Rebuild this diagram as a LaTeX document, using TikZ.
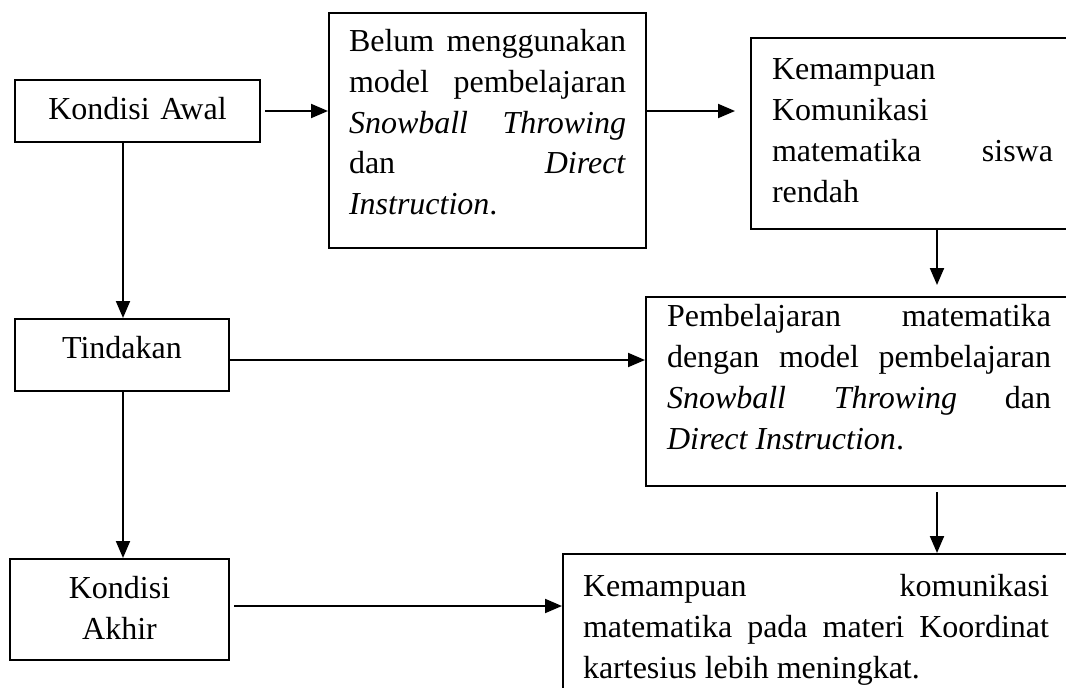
\documentclass[tikz,border=0pt]{standalone}
\usepackage{fontspec}
\setmainfont{Liberation Serif}
\usetikzlibrary{arrows.meta,calc}
\hyphenpenalty=10000
\exhyphenpenalty=10000
\tolerance=10000
\hbadness=10000
\begin{document}
\begin{tikzpicture}[x=1pt,y=-1pt,
  box/.style={draw, line width=2pt, inner ysep=0pt, anchor=north west,
    font=\fontsize{32}{41}\selectfont},
  smallbox/.style={box, inner xsep=0pt, align=center},
  textbox/.style={box, align=justify},
  conn/.style={line width=2pt, -{Triangle[length=17pt,width=14pt]}}]
\useasboundingbox (0,0) rectangle (1066,688);
\clip (0,0) rectangle (1066,688);

% left column
\node[smallbox, text width=245pt, text height=39pt, text depth=23pt] (ka) at (14,79) {Kondisi Awal};
\node[smallbox, text width=214pt, text height=39pt, text depth=33pt] (td) at (14,318) {Tindakan};
\node[smallbox, text width=219pt, text height=39pt, text depth=62pt] (kk) at (9,558) {Kondisi\\Akhir};

% text boxes
\node[textbox, inner xsep=20pt, text width=277pt, text height=38pt, text depth=197pt] (b2) at (328,12)
  {Belum menggunakan\linebreak model pembelajaran\linebreak \textit{Snowball Throwing}\linebreak dan \textit{Direct}\linebreak \textit{Instruction}.};
\node[textbox, inner xsep=21pt, text width=281pt, text height=41pt, text depth=150pt] (b3) at (750,37)
  {Kemampuan\linebreak Komunikasi\linebreak matematika siswa\linebreak rendah};
\node[textbox, inner xsep=21pt, text width=384pt, text height=29pt, text depth=160pt] (b4) at (645,296)
  {Pembelajaran matematika\linebreak dengan model pembelajaran\linebreak \textit{Snowball Throwing} dan\linebreak \textit{Direct Instruction}.};
\node[textbox, inner xsep=20pt, text width=466pt, text height=42pt, text depth=150pt] (b5) at (562,553)
  {Kemampuan komunikasi\linebreak matematika pada materi Koordinat\linebreak kartesius lebih meningkat.};

% connectors
\coordinate (cx) at (123,0);
\coordinate (cy) at (937,0);
\draw[conn] (ka.south -| cx) -- (td.north -| cx);
\draw[conn] (td.south -| cx) -- (kk.north -| cx);

\coordinate (a1) at ($(ka.east)+(4,0)$);
\draw[conn] (a1) -- (a1 -| b2.west);
\coordinate (a2) at (ka.east -| b2.east);
\coordinate (a3) at ($(ka.east -| b3.west)+(-15,0)$);
\draw[conn] (a2) -- (a3);

\coordinate (d1) at ($(b4.north -| cy)+(0,-11)$);
\draw[conn] (b3.south -| cy) -- (d1);
\coordinate (d2) at ($(b4.south -| cy)+(0,5)$);
\draw[conn] (d2) -- (b5.north -| cy);

\coordinate (t1) at ($(td.east)+(0,5)$);
\draw[conn] (t1) -- (t1 -| b4.west);
\coordinate (k1) at ($(kk.east)+(4,-3.5)$);
\draw[conn] (k1) -- (k1 -| b5.west);
\end{tikzpicture}
\end{document}
